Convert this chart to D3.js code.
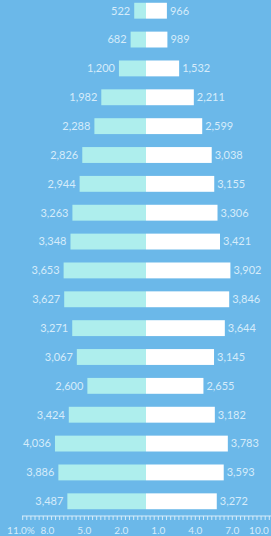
<!DOCTYPE html>
<html>
<head>
<meta charset="utf-8">
<script src="https://cdn.jsdelivr.net/npm/d3@7"></script>
<style>
  html, body { margin: 0; padding: 0; background: #6bb8e9; }
  svg { display: block; font-family: Lato, "Open Sans", sans-serif; }
</style>
</head>
<body>
<div id="chart"></div>
<script>
// age groups, top (oldest) to bottom (youngest)
var groups = ["85+","80-84","75-79","70-74","65-69","60-64","55-59","50-54","45-49",
  "40-44","35-39","30-34","25-29","20-24","15-19","10-14","5-9","0-4"];
var leftValues = [522,682,1200,1982,2288,2826,2944,3263,3348,3653,3627,3271,3067,2600,3424,4036,3886,3487];
var rightValues = [966,989,1532,2211,2599,3038,3155,3306,3421,3902,3846,3644,3145,2655,3182,3783,3593,3272];
var axisLabels = [-11, -8, -5, -2, 1, 4, 7, 10];

var width = 271, height = 536;
var center = 146;

var leftTotal = d3.sum(leftValues), rightTotal = d3.sum(rightValues);

var svg = d3.select("#chart").append("svg")
  .attr("width", width)
  .attr("height", height);

// bars as share of each side, px per percent
var share = d3.scaleLinear().domain([0, 1]).range([0, 11.3]);

var y = d3.scaleBand()
  .domain(groups)
  .range([-3, 515])
  .paddingInner(0.45)
  .paddingOuter(0.2);

var rows = svg.selectAll(".row")
  .data(groups)
  .enter()
  .append("g")
  .attr("class", "row")
  .attr("transform", function(d) { return "translate(0," + y(d) + ")"; });

rows.append("rect")
  .attr("x", function(d, i) { return center - share(leftValues[i] / leftTotal * 100); })
  .attr("width", function(d, i) { return share(leftValues[i] / leftTotal * 100); })
  .attr("height", y.bandwidth())
  .attr("fill", "#aeeeed");

rows.append("rect")
  .attr("x", center)
  .attr("width", function(d, i) { return share(rightValues[i] / rightTotal * 100); })
  .attr("height", y.bandwidth())
  .attr("fill", "#ffffff");

var fmt = d3.format(",");

rows.append("text")
  .attr("x", function(d, i) { return center - share(leftValues[i] / leftTotal * 100) - 4; })
  .attr("y", y.bandwidth() / 2)
  .attr("dy", "0.35em")
  .attr("text-anchor", "end")
  .attr("font-size", 11)
  .attr("fill", "#d6ecfa")
  .text(function(d, i) { return fmt(leftValues[i]); });

rows.append("text")
  .attr("x", function(d, i) { return center + share(rightValues[i] / rightTotal * 100) + 3; })
  .attr("y", y.bandwidth() / 2)
  .attr("dy", "0.35em")
  .attr("font-size", 11)
  .attr("fill", "#d6ecfa")
  .text(function(d, i) { return fmt(rightValues[i]); });

// bottom axis
var x = d3.scaleLinear().domain([-11, 10]).range([center - 11 * 12.33, center + 10 * 12.33]);
var axisY = 516;

svg.append("line")
  .attr("x1", 22).attr("x2", width)
  .attr("y1", axisY).attr("y2", axisY)
  .attr("stroke", "#d6ecfa")
  .attr("stroke-width", 1);

var minor = d3.range(-11 * 3 + 3, 10 * 3 + 5).map(function(k) { return k / 3; })
  .filter(function(v) { return x(v) >= 22 && x(v) <= width; });

svg.selectAll(".tick")
  .data(minor)
  .enter()
  .append("line")
  .attr("class", "tick")
  .attr("x1", function(d) { return x(d); })
  .attr("x2", function(d) { return x(d); })
  .attr("y1", axisY)
  .attr("y2", axisY + 4)
  .attr("stroke", "#d6ecfa")
  .attr("stroke-width", 1);

svg.selectAll(".axlabel")
  .data(axisLabels)
  .enter()
  .append("text")
  .attr("class", "axlabel")
  .attr("x", function(d, i) {
    if (i == 0) return 21;
    if (i == axisLabels.length - 1) return 259;
    return x(d);
  })
  .attr("y", 530)
  .attr("dy", "0.35em")
  .attr("text-anchor", "middle")
  .attr("font-size", 10)
  .attr("fill", "#d6ecfa")
  .text(function(d, i) {
    var s = Math.abs(d).toFixed(1);
    return i == 0 ? s + "%" : s;
  });
</script>
</body>
</html>
